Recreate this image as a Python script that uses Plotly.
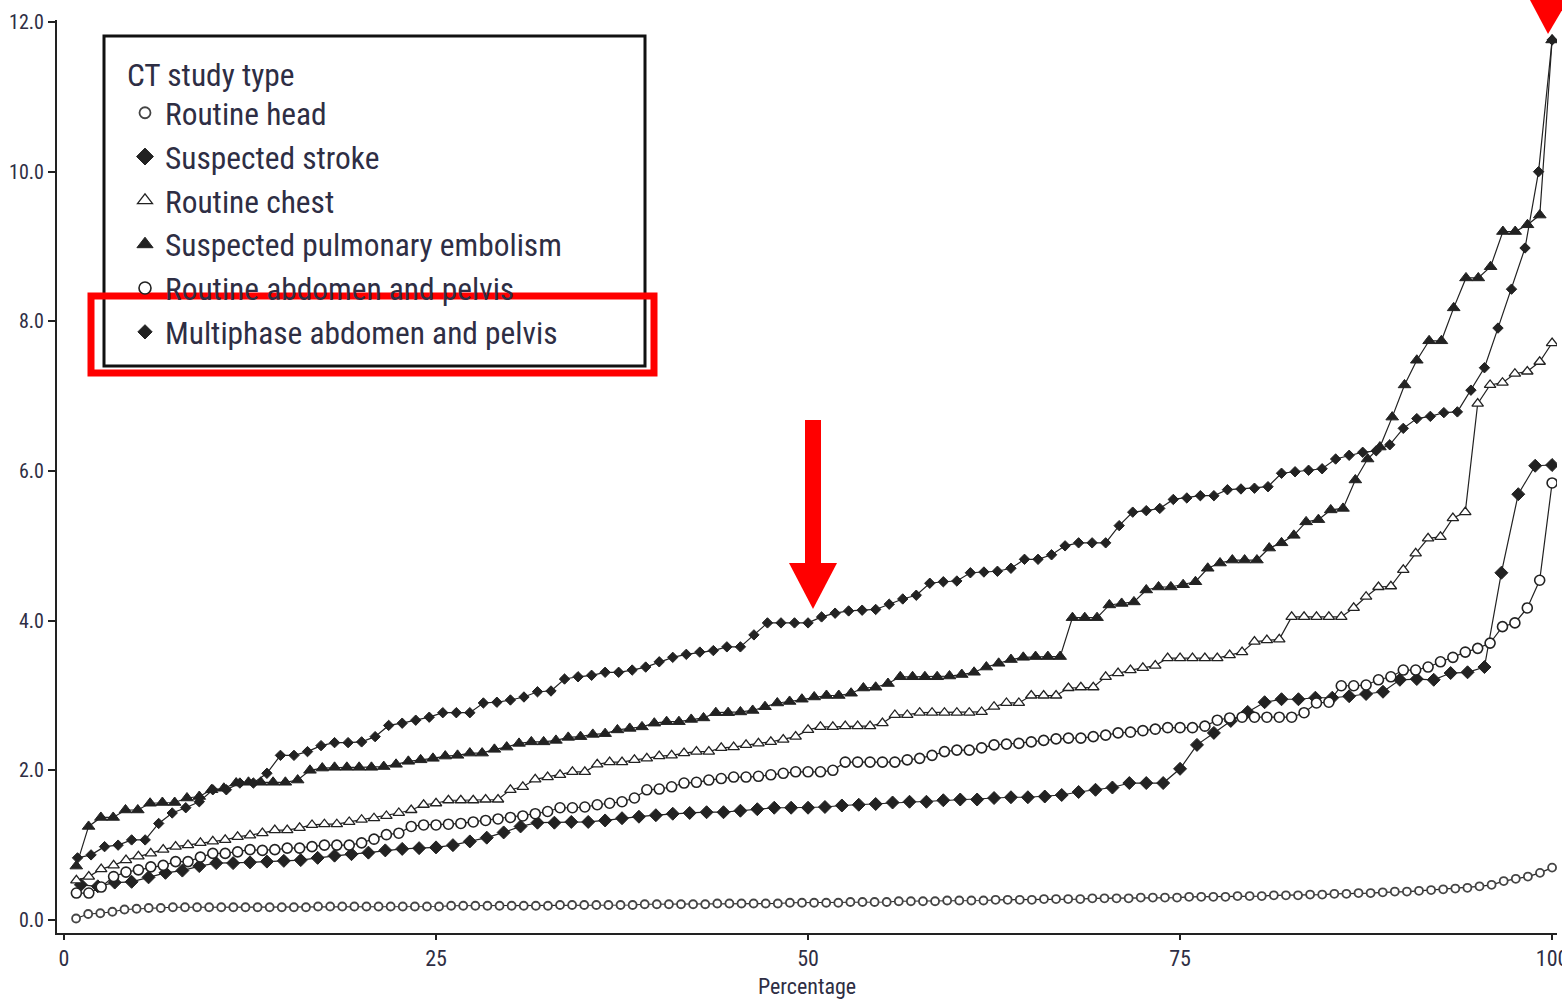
import plotly.graph_objects as go

series_names = ["Routine head", "Suspected stroke", "Routine chest",
                "Suspected pulmonary embolism", "Routine abdomen and pelvis",
                "Multiphase abdomen and pelvis"]

routine_head = [0.02, 0.08, 0.09, 0.11, 0.14, 0.15, 0.16, 0.16, 0.17, 0.17,
                0.17, 0.17, 0.17, 0.17, 0.17, 0.17, 0.17, 0.17, 0.17, 0.17,
                0.18, 0.18, 0.18, 0.18, 0.18, 0.18, 0.18, 0.18, 0.18, 0.18,
                0.18, 0.19, 0.19, 0.19, 0.19, 0.19, 0.19, 0.19, 0.19, 0.19,
                0.20, 0.20, 0.20, 0.20, 0.20, 0.20, 0.20, 0.21, 0.21, 0.21,
                0.21, 0.21, 0.21, 0.22, 0.22, 0.22, 0.22, 0.22, 0.22, 0.23,
                0.23, 0.23, 0.23, 0.23, 0.24, 0.24, 0.24, 0.24, 0.25, 0.25,
                0.25, 0.25, 0.26, 0.26, 0.26, 0.26, 0.27, 0.27, 0.27, 0.27,
                0.28, 0.28, 0.28, 0.28, 0.29, 0.29, 0.29, 0.29, 0.30, 0.30,
                0.30, 0.30, 0.31, 0.31, 0.31, 0.31, 0.32, 0.32, 0.32, 0.33,
                0.33, 0.33, 0.34, 0.34, 0.35, 0.35, 0.36, 0.36, 0.37, 0.38,
                0.38, 0.39, 0.40, 0.41, 0.42, 0.43, 0.45, 0.47, 0.52, 0.55,
                0.58, 0.63, 0.70]

suspected_stroke = [0.47, 0.45, 0.50, 0.51, 0.57, 0.63, 0.66, 0.72, 0.76, 0.76,
                    0.77, 0.78, 0.79, 0.80, 0.83, 0.86, 0.88, 0.90, 0.93, 0.95,
                    0.96, 0.97, 1.00, 1.05, 1.10, 1.17, 1.25, 1.30, 1.30, 1.31,
                    1.31, 1.33, 1.36, 1.38, 1.40, 1.42, 1.43, 1.44, 1.44, 1.46,
                    1.48, 1.50, 1.50, 1.50, 1.51, 1.53, 1.54, 1.55, 1.57, 1.58,
                    1.58, 1.60, 1.61, 1.61, 1.63, 1.64, 1.64, 1.65, 1.67, 1.71,
                    1.74, 1.77, 1.83, 1.83, 1.83, 2.02, 2.34, 2.50, 2.66, 2.78,
                    2.91, 2.95, 2.95, 2.97, 2.97, 2.99, 3.02, 3.05, 3.21, 3.22,
                    3.21, 3.30, 3.31, 3.38, 4.64, 5.69, 6.07, 6.08]

routine_chest = [0.53, 0.58, 0.68, 0.73, 0.80, 0.85, 0.89, 0.94, 0.98, 1.00,
                 1.03, 1.05, 1.07, 1.11, 1.13, 1.16, 1.20, 1.20, 1.23, 1.27,
                 1.28, 1.28, 1.31, 1.34, 1.36, 1.39, 1.43, 1.47, 1.54, 1.56,
                 1.60, 1.60, 1.60, 1.61, 1.61, 1.74, 1.78, 1.88, 1.91, 1.94,
                 1.98, 1.98, 2.08, 2.11, 2.11, 2.14, 2.16, 2.19, 2.20, 2.23,
                 2.25, 2.25, 2.30, 2.31, 2.34, 2.36, 2.38, 2.41, 2.45, 2.54,
                 2.58, 2.58, 2.59, 2.59, 2.59, 2.63, 2.74, 2.74, 2.77, 2.77,
                 2.77, 2.77, 2.77, 2.78, 2.85, 2.90, 2.90, 3.00, 3.00, 3.00,
                 3.10, 3.11, 3.11, 3.25, 3.30, 3.34, 3.37, 3.40, 3.50, 3.50,
                 3.50, 3.50, 3.50, 3.54, 3.58, 3.72, 3.74, 3.75, 4.05, 4.05,
                 4.05, 4.05, 4.05, 4.17, 4.32, 4.45, 4.46, 4.68, 4.90, 5.10,
                 5.12, 5.37, 5.45, 6.90, 7.15, 7.18, 7.30, 7.33, 7.46, 7.71]

suspected_pe = [0.72, 1.25, 1.37, 1.37, 1.47, 1.47, 1.56, 1.57, 1.57, 1.63,
                1.65, 1.74, 1.76, 1.83, 1.84, 1.84, 1.84, 1.84, 1.87, 2.00,
                2.03, 2.04, 2.04, 2.04, 2.04, 2.05, 2.08, 2.12, 2.14, 2.16,
                2.19, 2.20, 2.23, 2.23, 2.28, 2.31, 2.36, 2.38, 2.38, 2.40,
                2.44, 2.45, 2.48, 2.49, 2.54, 2.56, 2.58, 2.63, 2.65, 2.65,
                2.68, 2.70, 2.77, 2.77, 2.78, 2.80, 2.85, 2.90, 2.92, 2.95,
                2.98, 3.00, 3.00, 3.03, 3.10, 3.11, 3.16, 3.25, 3.25, 3.25,
                3.25, 3.26, 3.28, 3.31, 3.38, 3.43, 3.48, 3.51, 3.52, 3.52,
                3.52, 4.04, 4.04, 4.04, 4.21, 4.23, 4.25, 4.41, 4.45, 4.45,
                4.48, 4.52, 4.70, 4.77, 4.81, 4.81, 4.81, 4.97, 5.04, 5.14,
                5.32, 5.35, 5.48, 5.50, 5.88, 6.16, 6.32, 6.72, 7.15, 7.48,
                7.74, 7.74, 8.18, 8.58, 8.58, 8.73, 9.20, 9.20, 9.29, 9.42,
                11.76]

routine_abdomen = [0.36, 0.36, 0.44, 0.58, 0.64, 0.67, 0.71, 0.73, 0.78, 0.78,
                   0.84, 0.89, 0.89, 0.91, 0.94, 0.93, 0.94, 0.96, 0.96, 0.98,
                   1.00, 1.00, 1.00, 1.03, 1.08, 1.14, 1.16, 1.25, 1.27, 1.27,
                   1.28, 1.29, 1.31, 1.33, 1.35, 1.37, 1.39, 1.42, 1.45, 1.50,
                   1.50, 1.51, 1.54, 1.56, 1.58, 1.63, 1.74, 1.75, 1.78, 1.83,
                   1.84, 1.87, 1.89, 1.91, 1.91, 1.92, 1.94, 1.96, 1.98, 1.98,
                   1.98, 2.00, 2.11, 2.11, 2.11, 2.11, 2.11, 2.14, 2.16, 2.20,
                   2.25, 2.27, 2.27, 2.30, 2.34, 2.35, 2.36, 2.38, 2.40, 2.42,
                   2.43, 2.43, 2.45, 2.47, 2.50, 2.51, 2.53, 2.55, 2.57, 2.57,
                   2.57, 2.59, 2.67, 2.70, 2.71, 2.71, 2.71, 2.71, 2.71, 2.77,
                   2.90, 2.91, 3.13, 3.13, 3.14, 3.21, 3.25, 3.34, 3.34, 3.38,
                   3.45, 3.51, 3.58, 3.63, 3.70, 3.92, 3.97, 4.17, 4.54, 5.84]

multiphase_abdomen = [0.83, 0.87, 0.98, 1.00, 1.07, 1.07, 1.29, 1.43, 1.50, 1.58,
                      1.74, 1.74, 1.83, 1.83, 1.96, 2.20, 2.20, 2.25, 2.33, 2.37,
                      2.37, 2.38, 2.45, 2.60, 2.63, 2.67, 2.71, 2.77, 2.77, 2.77,
                      2.90, 2.91, 2.94, 2.98, 3.05, 3.06, 3.22, 3.25, 3.27, 3.31,
                      3.31, 3.34, 3.38, 3.45, 3.51, 3.55, 3.58, 3.60, 3.65, 3.65,
                      3.81, 3.97, 3.97, 3.97, 3.97, 4.05, 4.10, 4.13, 4.14, 4.15,
                      4.22, 4.29, 4.34, 4.50, 4.52, 4.53, 4.64, 4.65, 4.66, 4.70,
                      4.82, 4.82, 4.88, 5.00, 5.04, 5.04, 5.04, 5.27, 5.45, 5.47,
                      5.50, 5.62, 5.64, 5.67, 5.67, 5.75, 5.76, 5.77, 5.79, 5.97,
                      5.99, 6.01, 6.03, 6.16, 6.21, 6.25, 6.27, 6.35, 6.57, 6.70,
                      6.73, 6.78, 6.79, 7.08, 7.38, 7.91, 8.43, 8.98, 10.00, 11.76]

x_ticks = [0, 25, 50, 75, 100]
y_ticks = [0, 2, 4, 6, 8, 10, 12]

all_series = [routine_head, suspected_stroke, routine_chest,
              suspected_pe, routine_abdomen, multiphase_abdomen]

INK = "#222222"
styles = [
    dict(symbol="circle", size=8, color="white", line=dict(color="#444444", width=1.8)),
    dict(symbol="diamond", size=10, color=INK, line=dict(color=INK, width=1)),
    dict(symbol="triangle-up", size=10, color="white", line=dict(color=INK, width=1.3)),
    dict(symbol="triangle-up", size=11, color=INK, line=dict(color=INK, width=1)),
    dict(symbol="circle", size=10, color="white", line=dict(color=INK, width=1.6)),
    dict(symbol="diamond", size=8, color=INK, line=dict(color=INK, width=1)),
]
legend_sizes = [11, 13, 13, 14, 12, 11]

fig = go.Figure()
for name, ys, st in zip(series_names, all_series, styles):
    n = len(ys)
    xs = [100.0 * (i + 1) / n for i in range(n)]
    fig.add_trace(go.Scatter(x=xs, y=ys, mode="lines+markers", name=name,
                             line=dict(color=INK, width=1.2),
                             marker=st, showlegend=False))
# legend-only entries (marker symbols only)
for name, st, ls in zip(series_names, styles, legend_sizes):
    lst = dict(st)
    lst["size"] = ls
    fig.add_trace(go.Scatter(x=[None], y=[None], mode="markers", name=name,
                             marker=lst, showlegend=True))

W, H = 1562, 999
L, R, T, B = 57, 5, 20, 66
pw, ph = W - L - R, H - T - B


def px(xp):
    return (xp - L) / pw


def py(yp):
    return (H - B - yp) / ph


FONT = "Liberation Sans Narrow, Arial Narrow, Roboto Condensed, Roboto, sans-serif"
TXT = "#2e2e44"

shapes = [
    # legend frame
    dict(type="rect", xref="paper", yref="paper", x0=px(104), x1=px(645),
         y0=py(366), y1=py(36), line=dict(color="#111111", width=3)),
    # red highlight box
    dict(type="rect", xref="paper", yref="paper", x0=px(91), x1=px(654),
         y0=py(373), y1=py(296), line=dict(color="#ff0000", width=7)),
    # red arrow shaft
    dict(type="rect", xref="paper", yref="paper", x0=px(805), x1=px(821),
         y0=py(566), y1=py(420), fillcolor="#ff0000", line=dict(width=0)),
    # red arrow head
    dict(type="path", xref="paper", yref="paper",
         path=f"M {px(789)} {py(563)} L {px(837)} {py(563)} L {px(813)} {py(609)} Z",
         fillcolor="#ff0000", line=dict(width=0)),
    # top-right red marker
    dict(type="path", xref="paper", yref="paper",
         path=f"M {px(1530)} {py(0)} L {px(1568)} {py(0)} L {px(1548)} {py(34)} Z",
         fillcolor="#ff0000", line=dict(width=0)),
]

fig.update_layout(
    width=W, height=H,
    margin=dict(l=L, r=R, t=T, b=B, pad=0, autoexpand=False),
    paper_bgcolor="white", plot_bgcolor="white",
    font=dict(family=FONT, color=TXT),
    shapes=shapes,
    showlegend=True,
    legend=dict(
        x=px(125), y=py(45), xanchor="left", yanchor="top",
        bgcolor="rgba(0,0,0,0)", borderwidth=0,
        font=dict(family=FONT, size=31.4, color=TXT),
        title=dict(text="CT study type", font=dict(family=FONT, size=31.4, color=TXT)),
        itemsizing="trace", tracegroupgap=0,
    ),
    xaxis=dict(
        range=[-0.47, 100.33], tickmode="array", tickvals=x_ticks,
        ticktext=[str(v) for v in x_ticks], automargin=False,
        showline=True, linecolor=INK, linewidth=2, mirror=False,
        ticks="outside", ticklen=5, tickwidth=1.5, tickcolor=INK,
        showgrid=False, zeroline=False, ticklabeloverflow="allow",
        tickfont=dict(family=FONT, size=22, color=TXT),
        title=dict(text="Percentage", font=dict(family=FONT, size=22, color=TXT), standoff=10),
    ),
    yaxis=dict(
        range=[-0.174, 12.027], tickmode="array", tickvals=y_ticks,
        ticktext=[f"{v:.1f}" for v in y_ticks], automargin=False,
        showline=True, linecolor=INK, linewidth=2,
        ticks="outside", ticklen=7, tickwidth=1.5, tickcolor=INK,
        showgrid=False, zeroline=False,
        tickfont=dict(family=FONT, size=20, color=TXT),
    ),
)

fig.write_html("out.html")
